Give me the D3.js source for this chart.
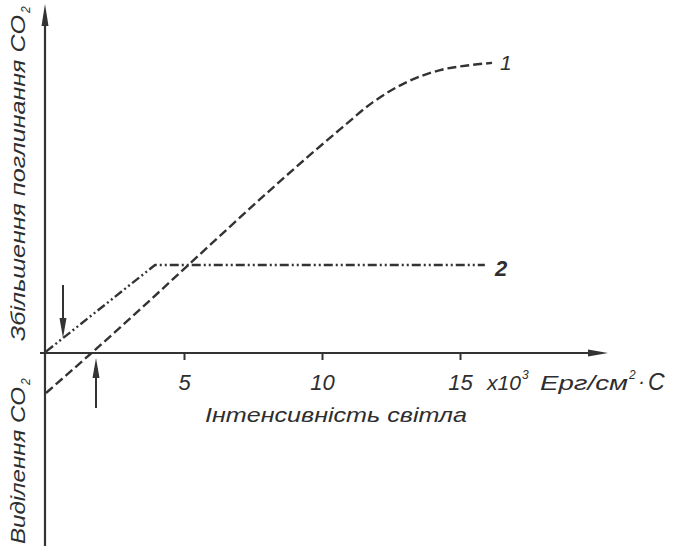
<!DOCTYPE html>
<html>
<head>
<meta charset="utf-8">
<script src="https://cdn.jsdelivr.net/npm/d3@7"></script>
<style>
  html, body { margin: 0; padding: 0; background: #fff; }
  svg { display: block; }
  text { font-family: "Liberation Sans", Arial, sans-serif; font-style: italic; fill: #2e2e2e; }
</style>
</head>
<body>
<svg id="chart" width="680" height="546"></svg>
<script>
// ---- data ----
const xTicks = [5, 10, 15];
const curve1X = [0, 1.65, 10.65, 11.85, 13.08, 14.28, 15.36, 16.16];
const curve1Y = [-1.45, 0, 8.1, 9.09, 9.82, 10.25, 10.43, 10.51];
const curve2X = [0, 3.95, 15.9];
const curve2Y = [0.05, 3.19, 3.19];
const seriesLabels = ["1", "2"];
const yLabelUp = "Збільшення поглинання CO";
const yLabelDown = "Виділення CO";
const xLabel = "Інтенсивність світла";
const unitMult = "x10";
const unitText = "Ерг/см";

// ---- setup ----
const svg = d3.select("#chart");
const ink = "#333";
const x = d3.scaleLinear().domain([0, 20]).range([46, 46 + 20 * 27.6]);
const y = d3.scaleLinear().domain([0, 10]).range([353, 353 - 276]);

// axes lines
svg.append("line").attr("x1", 45).attr("x2", 45).attr("y1", 14).attr("y2", 546)
  .attr("stroke", ink).attr("stroke-width", 2.2);
svg.append("path").attr("d", "M45,4 L41.5,26 L48.5,26 Z").attr("fill", ink);
svg.append("line").attr("x1", 40).attr("x2", 598).attr("y1", 353).attr("y2", 353)
  .attr("stroke", ink).attr("stroke-width", 2.2);
svg.append("path").attr("d", "M608,353 L588,349.5 L588,356.5 Z").attr("fill", ink);

// ticks
const axis = d3.axisBottom(x).tickValues(xTicks).tickSize(7).tickFormat(d3.format("d"));
const gAx = svg.append("g").attr("transform", "translate(0,353)").call(axis);
gAx.select(".domain").remove();
gAx.selectAll(".tick line").attr("stroke", ink).attr("stroke-width", 2);
gAx.selectAll(".tick text").attr("y", 37).attr("dy", 0)
  .style("font-size", "22px").style("font-family", "Liberation Sans, Arial, sans-serif")
  .style("font-style", "italic").attr("fill", "#2e2e2e");

// units
svg.append("text").attr("x", 487).attr("y", 390).style("font-size", "21px")
  .attr("textLength", 34).attr("lengthAdjust", "spacingAndGlyphs").text(unitMult);
svg.append("text").attr("x", 522).attr("y", 379).style("font-size", "12px").text("3");
svg.append("text").attr("x", 540).attr("y", 390).style("font-size", "21px")
  .attr("textLength", 88).attr("lengthAdjust", "spacingAndGlyphs").text(unitText);
svg.append("text").attr("x", 629).attr("y", 379).style("font-size", "12px").text("2");
svg.append("text").attr("x", 638).attr("y", 388).style("font-size", "21px").text("·");
svg.append("text").attr("x", 648).attr("y", 390).style("font-size", "23px").text("С");

// x label
svg.append("text").attr("x", 205).attr("y", 422).style("font-size", "21px")
  .attr("textLength", 262).attr("lengthAdjust", "spacingAndGlyphs").text(xLabel);

// y labels (rotated)
const gy1 = svg.append("g").attr("transform", "translate(25,341) rotate(-90)");
gy1.append("text").attr("x", 0).attr("y", 0).style("font-size", "20px")
  .attr("textLength", 326).attr("lengthAdjust", "spacingAndGlyphs").text(yLabelUp);
gy1.append("text").attr("x", 328).attr("y", 5).style("font-size", "12px").text("2");
const gy2 = svg.append("g").attr("transform", "translate(25,544) rotate(-90)");
gy2.append("text").attr("x", 0).attr("y", 0).style("font-size", "20px")
  .attr("textLength", 157).attr("lengthAdjust", "spacingAndGlyphs").text(yLabelDown);
gy2.append("text").attr("x", 159).attr("y", 5).style("font-size", "12px").text("2");

// curves
const c1 = curve1X.map((v, i) => [v, curve1Y[i]]);
const c2 = curve2X.map((v, i) => [v, curve2Y[i]]);
const line1 = d3.line().x(d => x(d[0])).y(d => y(d[1])).curve(d3.curveMonotoneX);
const line2 = d3.line().x(d => x(d[0])).y(d => y(d[1]));
svg.append("path").attr("d", line1(c1)).attr("fill", "none").attr("stroke", ink)
  .attr("stroke-width", 2.4).attr("stroke-dasharray", "9,4");
svg.append("path").attr("d", line2(c2)).attr("fill", "none").attr("stroke", ink)
  .attr("stroke-width", 2.4).attr("stroke-dasharray", "9,3,2,3,2,3");

// series labels
svg.append("text").attr("x", 500).attr("y", 70).style("font-size", "21px").text(seriesLabels[0]);
svg.append("text").attr("x", 495).attr("y", 276).style("font-size", "22px").style("font-weight", "bold").text(seriesLabels[1]);

// arrows marking compensation points
svg.append("line").attr("x1", 63).attr("x2", 63).attr("y1", 285).attr("y2", 322)
  .attr("stroke", ink).attr("stroke-width", 2);
svg.append("path").attr("d", "M63,338 L59.5,318 L66.5,318 Z").attr("fill", ink);
svg.append("line").attr("x1", 96).attr("x2", 96).attr("y1", 408).attr("y2", 374)
  .attr("stroke", ink).attr("stroke-width", 2);
svg.append("path").attr("d", "M96,358 L92.5,378 L99.5,378 Z").attr("fill", ink);
</script>
</body>
</html>
